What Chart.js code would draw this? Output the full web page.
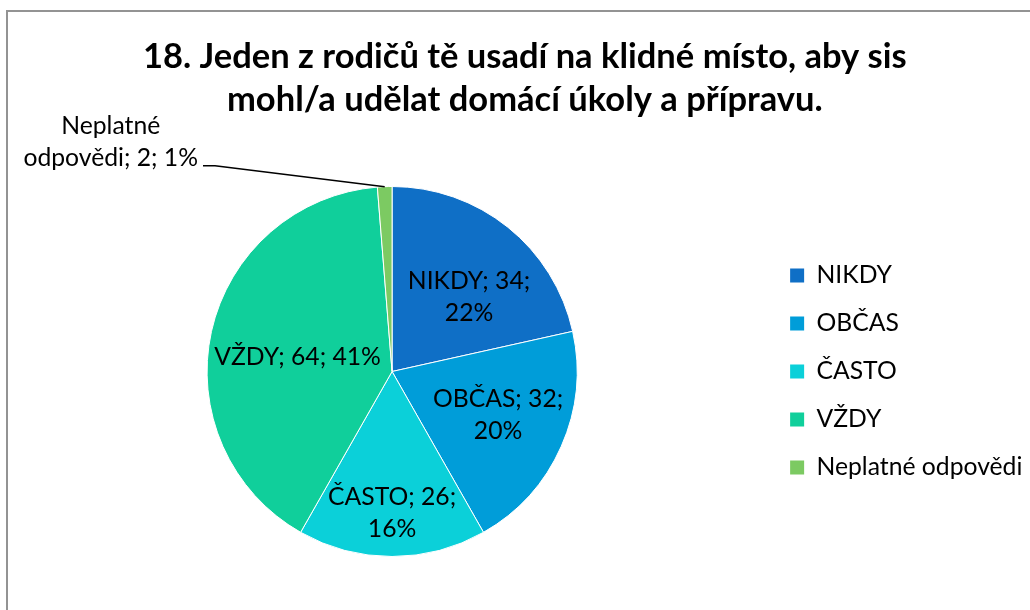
<!DOCTYPE html>
<html>
<head>
<meta charset="utf-8">
<script src="https://cdn.jsdelivr.net/npm/chart.js@4/dist/chart.umd.min.js"></script>
<style>
  html, body { margin: 0; padding: 0; background: #fff; overflow: hidden; }
  .frame {
    position: absolute; left: 6px; top: 10px; width: 1100px; height: 700px;
    border-left: 2px solid #939393; border-top: 2px solid #939393;
  }
  #chart { position: absolute; left: 0; top: 0; }
</style>
</head>
<body>
<div class="frame"></div>
<canvas id="chart" width="1030" height="610"></canvas>
<script>
// ── Data ────────────────────────────────────────────────

const TITLE_LINES = [
  '18. Jeden z rodičů tě usadí na klidné místo, aby sis',
  'mohl/a udělat domácí úkoly a přípravu.',
];
const CATEGORIES = ['NIKDY', 'OBČAS', 'ČASTO', 'VŽDY', 'Neplatné odpovědi'];
const VALUES = [34, 32, 26, 64, 2];
const COLORS = ['#0F6FC6', '#009DD9', '#0BD0D9', '#10CF9B', '#7CCA62'];

// ── Fonts ───────────────────────────────────────────────

const FONT = "Lato, 'Open Sans', sans-serif";

// pick a font size so a text gets the width it has in the reference
function fitSize(text, weight, width) {
  const ctx = document.createElement('canvas').getContext('2d');
  ctx.font = `${weight} 100px ${FONT}`;
  return 100 * width / ctx.measureText(text).width;
}

const labelSize = fitSize('Neplatné odpovědi', 'normal', 206);
const titleSize = fitSize(TITLE_LINES[0], 'bold', 764);

// ── Layout ──────────────────────────────────────────────

const PIE_CX = 392;
const LEGEND_BOX_X = 790;
const LEGEND_BOX = 14;
const LEGEND_STEP = 48;
const legendPad = LEGEND_STEP - labelSize;
const legendLeft = LEGEND_BOX_X - legendPad;
// Chart.js adds 10px to a vertical legend's width
const legendWidth = legendPad + LEGEND_BOX + labelSize / 2 + 206 + 10;
const padLeft = 2 * PIE_CX - legendLeft;
const padRight = 1030 - legendLeft - legendWidth;

// ── Slice labels ────────────────────────────────────────

// r: fraction of radius, da: turn from the slice middle (deg), split: how to wrap
const LABEL_PLACES = [
  { r: 0.578, da: 7.3, split: 'pct' },
  { r: 0.62, da: -1.5, split: 'pct' },
  { r: 0.766, da: 0, split: 'pct' },
  { r: 0.517, da: -3.6, split: 'none' },
  { outside: true, dx: -274, dy: -45, split: 'word' },
];

function labelLines(i, total) {
  const pct = Math.round(VALUES[i] / total * 100) + '%';
  const name = CATEGORIES[i];
  const split = LABEL_PLACES[i].split;
  if (split === 'pct') return [`${name}; ${VALUES[i]};`, pct];
  if (split === 'word') {
    const words = name.split(' ');
    return [words[0], `${words.slice(1).join(' ')}; ${VALUES[i]}; ${pct}`];
  }
  return [`${name}; ${VALUES[i]}; ${pct}`];
}

const sliceLabels = {
  id: 'sliceLabels',
  afterDatasetsDraw(chart) {
    const { ctx } = chart;
    const meta = chart.getDatasetMeta(0);
    const total = VALUES.reduce((a, b) => a + b, 0);
    const lineH = 32;
    ctx.save();
    ctx.font = `${labelSize}px ${FONT}`;
    ctx.fillStyle = '#000';
    ctx.textAlign = 'center';
    ctx.textBaseline = 'middle';
    meta.data.forEach((arc, i) => {
      const { x, y, startAngle, endAngle, outerRadius } =
        arc.getProps(['x', 'y', 'startAngle', 'endAngle', 'outerRadius'], true);
      const place = LABEL_PLACES[i];
      const lines = labelLines(i, total);
      let cx, cy;
      if (place.outside) {
        const mid = (startAngle + endAngle) / 2;
        const ex = x + Math.cos(mid) * outerRadius;
        const ey = y + Math.sin(mid) * outerRadius;
        cx = ex + place.dx;
        cy = ey + place.dy;
        const w = Math.max(...lines.map(l => ctx.measureText(l).width));
        const right = cx + w / 2;
        ctx.beginPath();
        ctx.moveTo(ex, ey);
        ctx.lineTo(right + 17, cy + 24);
        ctx.lineTo(right + 5, cy + 24);
        ctx.strokeStyle = '#000';
        ctx.lineWidth = 1.5;
        ctx.stroke();
      } else {
        const mid = (startAngle + endAngle) / 2 + place.da * Math.PI / 180;
        cx = x + Math.cos(mid) * outerRadius * place.r;
        cy = y + Math.sin(mid) * outerRadius * place.r;
      }
      const top = cy - (lines.length - 1) * lineH / 2;
      lines.forEach((l, k) => ctx.fillText(l, cx, top + k * lineH));
    });
    ctx.restore();
  },
};

// ── Chart ───────────────────────────────────────────────

new Chart(document.getElementById('chart'), {
  type: 'pie',
  data: {
    labels: CATEGORIES,
    datasets: [{
      data: VALUES,
      backgroundColor: COLORS,
      borderColor: '#fff',
      borderWidth: 1,
    }],
  },
  options: {
    responsive: false,
    animation: false,
    layout: { padding: { left: padLeft, right: padRight, top: 0, bottom: 53 } },
    plugins: {
      tooltip: { enabled: false },
      title: {
        display: true,
        text: TITLE_LINES,
        color: '#000',
        font: { family: FONT, size: titleSize, weight: 'bold', lineHeight: 43 / titleSize },
        padding: { top: 35.5, bottom: 64.5 },
      },
      legend: {
        position: 'right',
        fullSize: false,
        labels: {
          boxWidth: LEGEND_BOX,
          boxHeight: LEGEND_BOX,
          padding: legendPad,
          color: '#000',
          font: { family: FONT, size: labelSize },
          generateLabels: chart => chart.data.labels.map((text, i) => ({
            text,
            fillStyle: COLORS[i],
            strokeStyle: COLORS[i],
            lineWidth: 0,
            hidden: false,
            index: i,
          })),
        },
      },
    },
  },
  plugins: [sliceLabels],
});
</script>
</body>
</html>
